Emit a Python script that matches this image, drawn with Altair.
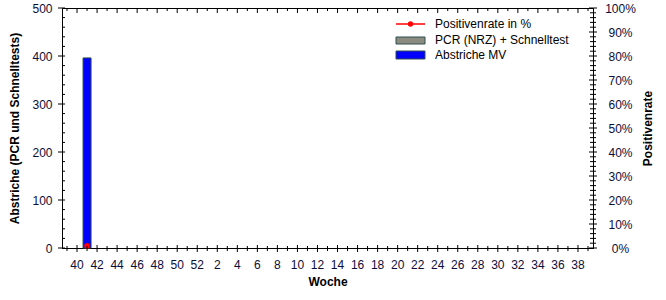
import altair as alt
import pandas as pd

# ---- data -------------------------------------------------------------
week_numbers = list(range(39, 53)) + list(range(1, 40))
week_years = [2020] * 14 + [2021] * 39
week_keys = [f"{y}-{w}" for y, w in zip(week_years, week_numbers)]

mv_weeks = ["2020-41"]
mv_values = [396]          # Abstriche MV
pcr_weeks = ["2020-41"]
pcr_values = [0]           # PCR (NRZ) + Schnelltest
rate_weeks = ["2020-41"]
rate_values = [0.9]        # Positivenrate in %

left_tick_values = list(range(0, 501, 20))
right_tick_values = list(range(0, 101, 2))

legend_labels = ["Positivenrate in %", "PCR (NRZ) + Schnelltest", "Abstriche MV"]

# ---- tables -----------------------------------------------------------
weeks_df = pd.DataFrame({"key": week_keys, "week": week_numbers})
weeks_df["major"] = weeks_df["week"] % 2 == 0
bars_df = pd.DataFrame({"key": mv_weeks, "mv": mv_values, "pcr": pcr_values})
rate_df = pd.DataFrame({"key": rate_weeks, "rate": rate_values})
lt_df = pd.DataFrame({"v": left_tick_values})
lt_df["major"] = lt_df["v"] % 100 == 0
rt_df = pd.DataFrame({"v": right_tick_values})
rt_df["major"] = rt_df["v"] % 10 == 0
one = pd.DataFrame({"a": [0]})

FONT = "Liberation Sans"
LABEL_COLOR = "#0d0d3a"
W, H = 531, 240

wk = "slice(datum.value, 5)"
xscale = alt.Scale(domain=week_keys, paddingInner=0.2, paddingOuter=0.1)

x_axis = alt.Axis(
    orient="bottom",
    title="Woche",
    labelAngle=0,
    labelExpr=f"parseInt({wk}) % 2 == 0 ? {wk} : ''",
    ticks=False,
    labelPadding=11,
    titlePadding=6,
)

# same axis definition on every layer so the shared x axis merges cleanly
x_enc = alt.X("key:O", scale=xscale, axis=x_axis)

left_scale = alt.Scale(domain=[0, 500], nice=False)
right_scale = alt.Scale(domain=[0, 100], nice=False)

# ---- left scale layers ------------------------------------------------
bars = alt.Chart(bars_df).mark_bar(color="#0000ff", stroke="#2f4f4f", strokeWidth=1).encode(
    x=x_enc,
    y=alt.Y(
        "mv:Q",
        scale=left_scale,
        axis=alt.Axis(
            title="Abstriche (PCR und Schnelltests)",
            values=[v for v in left_tick_values if v % 100 == 0],
            ticks=False,
            labelPadding=10,
            titlePadding=10,
        ),
    ),
)

pcr_bars = alt.Chart(bars_df).transform_filter("datum.pcr > 0").mark_bar(
    color="#8b8b80", stroke="#2f4f4f", strokeWidth=1
).encode(x=x_enc, y=alt.Y("pcr:Q", scale=left_scale, axis=None))

left_major = alt.Chart(lt_df).transform_filter("datum.major").mark_rule(color="black").encode(
    y=alt.Y("v:Q", scale=left_scale, axis=None), x=alt.value(-4), x2=alt.value(3)
)
left_minor = alt.Chart(lt_df).transform_filter("!datum.major").mark_rule(color="black").encode(
    y=alt.Y("v:Q", scale=left_scale, axis=None), x=alt.value(0), x2=alt.value(3)
)

top_major = alt.Chart(weeks_df).transform_filter("datum.major").mark_rule(color="black").encode(
    x=x_enc, y=alt.value(0), y2=alt.value(5)
)
top_minor = alt.Chart(weeks_df).transform_filter("!datum.major").mark_rule(color="black").encode(
    x=x_enc, y=alt.value(0), y2=alt.value(3)
)
bot_major = alt.Chart(weeks_df).transform_filter("datum.major").mark_rule(color="black").encode(
    x=x_enc, y=alt.value(H - 3), y2=alt.value(H + 4)
)
bot_minor = alt.Chart(weeks_df).transform_filter("!datum.major").mark_rule(color="black").encode(
    x=x_enc, y=alt.value(H - 2), y2=alt.value(H + 3)
)

# ---- manual legend ----------------------------------------------------
LX0, LX1, TX = 334, 363, 373
leg_line = alt.Chart(one).mark_rule(color="#ff0000", strokeWidth=1.5).encode(
    x=alt.value(LX0), x2=alt.value(LX1), y=alt.value(16)
)
leg_dot = alt.Chart(one).mark_point(filled=True, color="#ff0000", size=28, opacity=1).encode(
    x=alt.value((LX0 + LX1) / 2), y=alt.value(16)
)
leg_pcr = alt.Chart(one).mark_rect(color="#8b8b80", stroke="#2f4f4f", strokeWidth=1).encode(
    x=alt.value(LX0), x2=alt.value(LX1), y=alt.value(29), y2=alt.value(36)
)
leg_mv = alt.Chart(one).mark_rect(color="#0000ff", stroke="#2f4f4f", strokeWidth=1).encode(
    x=alt.value(LX0), x2=alt.value(LX1), y=alt.value(43), y2=alt.value(51)
)
leg_text = [
    alt.Chart(one).mark_text(align="left", baseline="middle", fontSize=12, font=FONT, color="black").encode(
        x=alt.value(TX), y=alt.value(yy), text=alt.value(t)
    )
    for t, yy in zip(legend_labels, [16, 32, 47])
]

# ---- right scale layers -----------------------------------------------
rate = alt.Chart(rate_df).mark_line(
    color="#ff0000", strokeWidth=1.5,
    point=alt.OverlayMarkDef(color="#ff0000", filled=True, size=32, opacity=1),
).encode(
    x=x_enc,
    y=alt.Y(
        "rate:Q",
        scale=right_scale,
        axis=alt.Axis(
            orient="right",
            title="Positivenrate",
            values=[v for v in right_tick_values if v % 10 == 0],
            labelExpr="datum.value + '%'",
            ticks=False,
            labelAlign="center",
            labelPadding=27,
            titleAngle=270,
            titlePadding=19,
        ),
    ),
)

right_major = alt.Chart(rt_df).transform_filter("datum.major").mark_rule(color="black").encode(
    y=alt.Y("v:Q", scale=right_scale, axis=None), x=alt.value(W - 4), x2=alt.value(W + 4)
)
right_minor = alt.Chart(rt_df).transform_filter("!datum.major").mark_rule(color="black").encode(
    y=alt.Y("v:Q", scale=right_scale, axis=None), x=alt.value(W - 3), x2=alt.value(W + 3)
)

chart = (
    alt.layer(
        bars, rate, pcr_bars, left_major, left_minor, top_major, top_minor, bot_major, bot_minor,
        right_major, right_minor,
        leg_line, leg_dot, leg_pcr, leg_mv, *leg_text,
    )
    .resolve_scale(y="independent")
    .properties(
        width=W,
        height=H,
        autosize=alt.AutoSizeParams(type="none"),
        padding={"left": 62, "top": 8, "right": 73, "bottom": 52},
    )
    .configure_view(stroke="black", strokeWidth=1)
    .configure_axis(
        grid=False,
        domainColor="black",
        labelFont=FONT,
        labelFontSize=12,
        labelColor=LABEL_COLOR,
        titleFont=FONT,
        titleFontSize=12,
        titleFontWeight="bold",
        titleColor="black",
    )
)

chart.save("out.html", embed_options={"renderer": "svg", "actions": False})
